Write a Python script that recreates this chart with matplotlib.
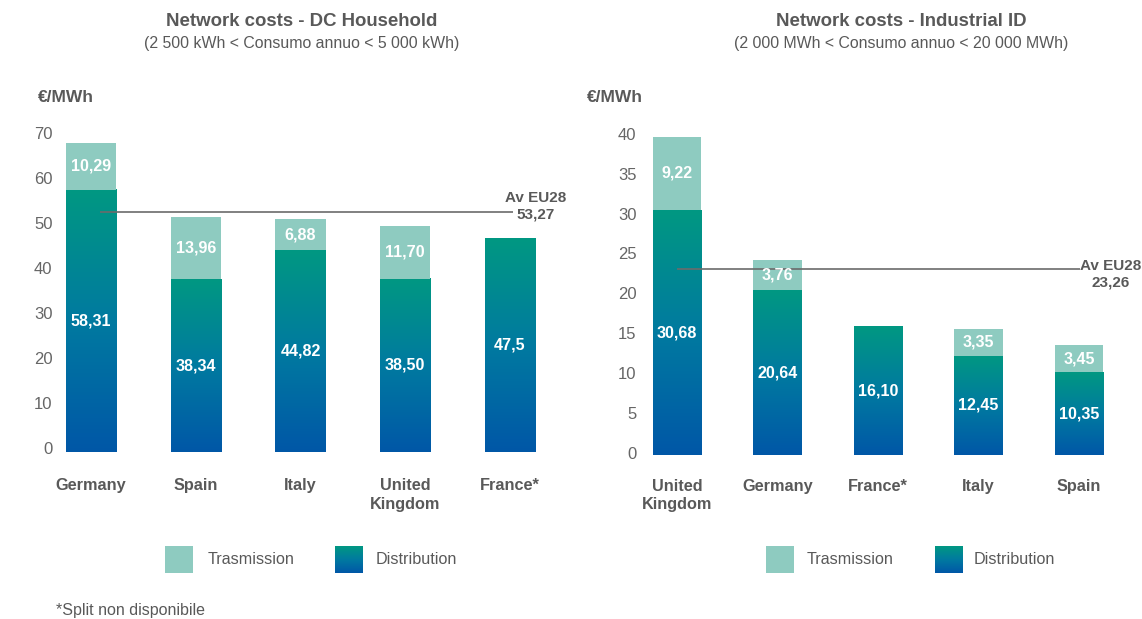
import numpy as np
import matplotlib
matplotlib.use("Agg")
import matplotlib.pyplot as plt
from matplotlib.colors import LinearSegmentedColormap
from matplotlib.patches import Rectangle
import matplotlib.transforms as mtransforms

plt.rcParams['font.family'] = ['Liberation Sans', 'DejaVu Sans']

# ---------------- data ----------------
hh_categories = ["Germany", "Spain", "Italy", "United\nKingdom", "France*"]
hh_distribution = [58.31, 38.34, 44.82, 38.50, 47.5]
hh_transmission = [10.29, 13.96, 6.88, 11.70, 0.0]
hh_dist_labels = ["58,31", "38,34", "44,82", "38,50", "47,5"]
hh_trans_labels = ["10,29", "13,96", "6,88", "11,70", ""]
hh_avg = 53.27
hh_avg_label = "Av EU28\n53,27"
hh_yticks = [0, 10, 20, 30, 40, 50, 60, 70]

id_categories = ["United\nKingdom", "Germany", "France*", "Italy", "Spain"]
id_distribution = [30.68, 20.64, 16.10, 12.45, 10.35]
id_transmission = [9.22, 3.76, 0.0, 3.35, 3.45]
id_dist_labels = ["30,68", "20,64", "16,10", "12,45", "10,35"]
id_trans_labels = ["9,22", "3,76", "", "3,35", "3,45"]
id_avg = 23.26
id_avg_label = "Av EU28\n23,26"
id_yticks = [0, 5, 10, 15, 20, 25, 30, 35, 40]

titles = ["Network costs - DC Household", "Network costs - Industrial ID"]
subtitles = ["(2 500 kWh < Consumo annuo < 5 000 kWh)",
             "(2 000 MWh < Consumo annuo < 20 000 MWh)"]
legend_labels = ["Trasmission", "Distribution"]
unit_label = "€/MWh"
footnote = "*Split non disponibile"

# ---------------- style ----------------
W, H = 1142, 619
TEXT = "#595959"
TICK = "#666666"
TRANS_COLOR = "#8ecbc0"
grad_cmap = LinearSegmentedColormap.from_list("dist", ["#0057a7", "#007aa0", "#009882"])
grad = np.linspace(0, 1, 256).reshape(-1, 1)

fig = plt.figure(figsize=(W / 100, H / 100), dpi=100)


def fx(px):
    return px / W


def fy(py):
    return 1 - py / H


def make_axes(left, right, top, bottom, xlim, ylim):
    ax = fig.add_axes([fx(left), fy(bottom), fx(right - left), (bottom - top) / H])
    ax.set_xlim(*xlim)
    ax.set_ylim(*ylim)
    for s in ax.spines.values():
        s.set_visible(False)
    return ax


def draw_panel(ax, cats, dist, trans, dlabels, tlabels, avg, avg_label, yticks,
               avg_x0, avg_x1, lab_x, lab_y, tick_shift, xpad, width=0.48):
    xlim = ax.get_xlim()
    ylim = ax.get_ylim()
    x = np.arange(len(cats))
    bars = ax.bar(x, dist, width=width, color="none", edgecolor="none", zorder=2)
    for b in bars:
        bx, by = b.get_x(), b.get_y()
        bw, bh = b.get_width(), b.get_height()
        ax.imshow(grad, cmap=grad_cmap, origin="lower", aspect="auto",
                  extent=[bx, bx + bw, by, by + bh], zorder=2, interpolation="bilinear")
    ax.bar(x, trans, bottom=dist, width=width, color=TRANS_COLOR, edgecolor="none", zorder=2)
    for xi, d, t, dl, tl in zip(x, dist, trans, dlabels, tlabels):
        ax.text(xi, d / 2, dl, ha="center", va="center", color="white",
                fontsize=11.6, fontweight="bold", zorder=4)
        if t > 0:
            ax.text(xi, d + t / 2, tl, ha="center", va="center", color="white",
                    fontsize=11.6, fontweight="bold", zorder=4)
    ax.plot([avg_x0, avg_x1], [avg, avg], color="#6b6b6b", lw=1.2, zorder=3,
            solid_capstyle="butt")
    ax.text(lab_x, lab_y, avg_label, ha="center", va="center", multialignment="center",
            color=TEXT, fontsize=11, fontweight="bold", linespacing=1.25, clip_on=False)
    ax.set_xticks(x)
    ax.set_xticklabels(cats, fontsize=11.7, fontweight="bold", color=TEXT, linespacing=1.3)
    ax.set_yticks(yticks)
    ax.set_yticklabels([str(v) for v in yticks], fontsize=12, color=TICK)
    ax.tick_params(axis="both", length=0)
    ax.tick_params(axis="y", pad=4)
    ax.tick_params(axis="x", pad=xpad)
    off = mtransforms.ScaledTranslation(0, tick_shift / 72, fig.dpi_scale_trans)
    for lbl in ax.get_yticklabels():
        lbl.set_transform(lbl.get_transform() + off)
    ax.set_xlim(*xlim)
    ax.set_ylim(*ylim)


# left panel
sp_l = 104.75
ax1 = make_axes(58, 570, 128, 452,
                ((58 - 91) / sp_l, (570 - 91) / sp_l), (0, (452 - 128) / 4.5))
draw_panel(ax1, hh_categories, hh_distribution, hh_transmission, hh_dist_labels,
           hh_trans_labels, hh_avg, hh_avg_label, hh_yticks,
           avg_x0=(100 - 91) / sp_l, avg_x1=(513 - 91) / sp_l,
           lab_x=(536 - 91) / sp_l, lab_y=(452 - 206.5) / 4.5,
           tick_shift=3, xpad=19)

# right panel
sp_r = 100.5
ax2 = make_axes(642, 1140, 128, 455,
                ((642 - 677) / sp_r, (1140 - 677) / sp_r), (0, (455 - 128) / 7.98))
draw_panel(ax2, id_categories, id_distribution, id_transmission, id_dist_labels,
           id_trans_labels, id_avg, id_avg_label, id_yticks,
           avg_x0=0.0, avg_x1=(1080 - 677) / sp_r,
           lab_x=(1111 - 677) / sp_r, lab_y=(455 - 274.5) / 7.98,
           tick_shift=1.5, xpad=17)

# titles
for cx, t, st in zip([302, 901], titles, subtitles):
    fig.text(fx(cx), fy(22), t, ha="center", va="center", fontsize=13.4,
             fontweight="bold", color=TEXT)
    fig.text(fx(cx), fy(43.5), st, ha="center", va="center", fontsize=11.4, color=TEXT)

# unit labels
for ux in [38, 587]:
    fig.text(fx(ux), fy(97), unit_label, ha="left", va="center", fontsize=12.5,
             fontweight="bold", color=TEXT)

# legends
for sq1, tx1, sq2, tx2 in [(165, 208, 335, 376), (766, 807, 935, 974)]:
    fig.add_artist(Rectangle((fx(sq1), fy(573)), 28 / W, 27 / H,
                             transform=fig.transFigure, facecolor=TRANS_COLOR,
                             edgecolor="none"))
    fig.text(fx(tx1), fy(560), legend_labels[0], ha="left", va="center",
             fontsize=11.6, color=TEXT)
    lax = fig.add_axes([fx(sq2), fy(573), 28 / W, 27 / H])
    lax.imshow(grad, cmap=grad_cmap, origin="lower", aspect="auto",
               interpolation="bilinear")
    lax.axis("off")
    fig.text(fx(tx2), fy(560), legend_labels[1], ha="left", va="center",
             fontsize=11.6, color=TEXT)

fig.text(fx(56), fy(611), footnote, ha="left", va="center", fontsize=11.5, color=TEXT)

fig.savefig("out.png", dpi=100)
